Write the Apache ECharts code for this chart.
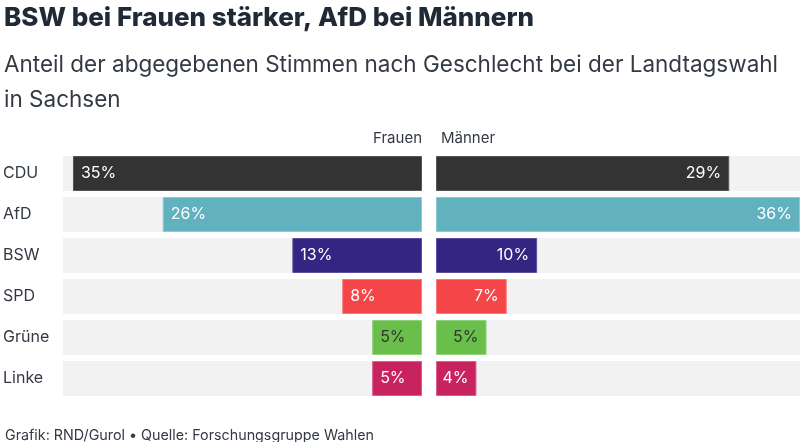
<!DOCTYPE html>
<html><head><meta charset="utf-8">
<script src="https://cdn.jsdelivr.net/npm/echarts@6/dist/echarts.min.js"></script>
<style>html,body{margin:0;padding:0;background:#fff}#c{width:800px;height:442px}</style>
</head><body><div id="c"></div>
<script>
const parties = ['CDU', 'AfD', 'BSW', 'SPD', 'Grüne', 'Linke'];
const frauen = [35, 26, 13, 8, 5, 5];
const maenner = [29, 36, 10, 7, 5, 4];
const colors = ['#333333', '#62b1bf', '#332581', '#f44649', '#6abf4b', '#c9235f'];
const borders = ['#555555', '#8ccad4', '#5a4fa0', '#f7797b', '#93d27c', '#d9608c'];
const labelColors = ['#ffffff', '#ffffff', '#ffffff', '#ffffff', '#333333', '#ffffff'];
const maxVal = 36;

const chart = echarts.init(document.getElementById('c'));
function mk(vals) {
  return vals.map((v, i) => ({
    value: v,
    itemStyle: { color: colors[i], borderColor: borders[i], borderWidth: 1 },
    label: { color: labelColors[i] }
  }));
}
const gridTop = 153, gridBottom = 43;
chart.setOption({
  animation: false,
  textStyle: { fontFamily: 'Inter' },
  title: [
    { text: 'BSW bei Frauen stärker, AfD bei Männern', left: -1, top: 0,
      textStyle: { fontFamily: 'Inter', fontWeight: 800, fontSize: 26, color: '#1f2a36' } },
    { text: 'Anteil der abgegebenen Stimmen nach Geschlecht bei der Landtagswahl\nin Sachsen', left: -1, top: 43,
      textStyle: { fontFamily: 'Inter', fontWeight: 'normal', fontSize: 22.5, lineHeight: 35, color: '#333a44' } },
    { text: 'Grafik: RND/Gurol • Quelle: Forschungsgruppe Wahlen', left: 0, top: 424,
      textStyle: { fontFamily: 'Inter', fontWeight: 'normal', fontSize: 14.3, color: '#333a44' } }
  ],
  graphic: [
    { type: 'text', right: 800 - 422, top: 131, style: { text: 'Frauen', font: '15px Inter', fill: '#333a44' } },
    { type: 'text', left: 441, top: 131, style: { text: 'Männer', font: '15px Inter', fill: '#333a44' } }
  ],
  grid: [
    { left: 60, width: 362, top: gridTop, bottom: gridBottom },
    { left: 436, width: 364, top: gridTop, bottom: gridBottom }
  ],
  xAxis: [
    { gridIndex: 0, type: 'value', min: 0, max: maxVal, inverse: true, show: false },
    { gridIndex: 1, type: 'value', min: 0, max: maxVal, show: false }
  ],
  yAxis: [
    { gridIndex: 0, type: 'category', data: parties, inverse: true,
      axisLine: { show: false }, axisTick: { show: false },
      axisLabel: { align: 'left', margin: 60, fontSize: 16, color: '#333a44', fontFamily: 'Inter' } },
    { gridIndex: 1, type: 'category', data: parties, inverse: true, show: false }
  ],
  series: [
    { type: 'bar', xAxisIndex: 0, yAxisIndex: 0, data: mk(frauen), barWidth: 35,
      showBackground: true, backgroundStyle: { color: '#f2f2f2' },
      label: { show: true, position: 'insideLeft', distance: 8, fontSize: 16, fontFamily: 'Inter', formatter: p => p.value + '%' } },
    { type: 'bar', xAxisIndex: 1, yAxisIndex: 1, data: mk(maenner), barWidth: 35,
      showBackground: true, backgroundStyle: { color: '#f2f2f2' },
      label: { show: true, position: 'insideRight', distance: 8, fontSize: 16, fontFamily: 'Inter', formatter: p => p.value + '%' } }
  ]
});
</script></body></html>
